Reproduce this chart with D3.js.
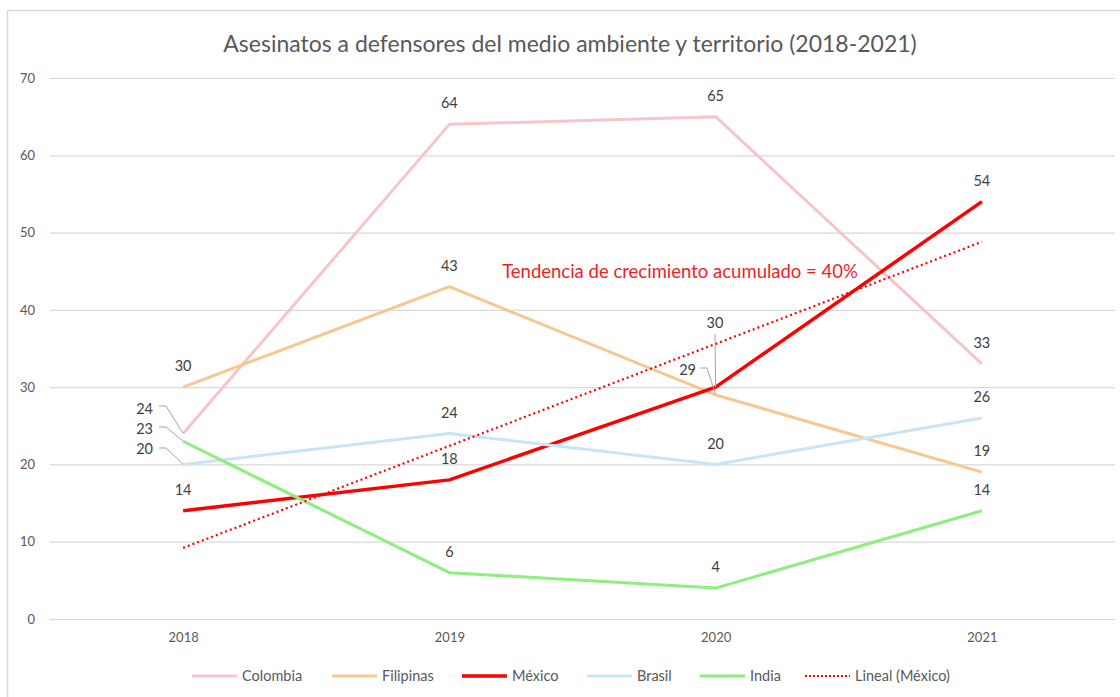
<!DOCTYPE html>
<html>
<head>
<meta charset="utf-8">
<script src="https://cdn.jsdelivr.net/npm/d3@7"></script>
<style>
  body { margin: 0; background: #fff; }
  svg { display: block; }
  text { font-family: Lato, "Open Sans", sans-serif; }
</style>
</head>
<body>
<svg id="chart" width="1120" height="697"></svg>
<script>
const years = ["2018", "2019", "2020", "2021"];
const colombia = [24, 64, 65, 33];
const filipinas = [30, 43, 29, 19];
const mexico = [14, 18, 30, 54];
const brasil = [20, 24, 20, 26];
const india = [23, 6, 4, 14];
const yTicks = [0, 10, 20, 30, 40, 50, 60, 70];
const titleText = "Asesinatos a defensores del medio ambiente y territorio (2018-2021)";
const annotationText = "Tendencia de crecimiento acumulado = 40%";

const series = [
  { name: "Colombia", values: colombia, color: "#F7C5C8", width: 3 },
  { name: "Filipinas", values: filipinas, color: "#F8C790", width: 3 },
  { name: "México", values: mexico, color: "#FF0000", width: 3.5 },
  { name: "Brasil", values: brasil, color: "#C8E5F7", width: 3 },
  { name: "India", values: india, color: "#8EEE7E", width: 3 }
];

// linear trend of México (least squares over index 1..n)
const xs = mexico.map((_, i) => i + 1);
const mx = d3.mean(xs), my = d3.mean(mexico);
const slope = d3.sum(xs.map((x, i) => (x - mx) * (mexico[i] - my))) / d3.sum(xs.map(x => (x - mx) ** 2));
const intercept = my - slope * mx;
const trend = xs.map(x => intercept + slope * x);

const svg = d3.select("#chart");
const x = d3.scalePoint().domain(years).range([50, 1115]).padding(0.5);
const y = d3.scaleLinear().domain([0, 70]).range([619, 78]);

// chart border
svg.append("path").attr("d", "M7.5,697 V10.5 H1120").attr("fill", "none").attr("stroke", "#D9D9D9").attr("stroke-width", 1.5);

// title
svg.append("text").attr("x", 570).attr("y", 52).attr("text-anchor", "middle")
  .attr("font-size", 23).attr("fill", "#595959").text(titleText);

// gridlines + y axis
const yAxis = d3.axisLeft(y).tickValues(yTicks).tickSize(-(1115 - 50)).tickPadding(15);
const gy = svg.append("g").attr("transform", "translate(50,0)").call(yAxis);
gy.select(".domain").remove();
gy.selectAll(".tick line").attr("stroke", "#D9D9D9").attr("stroke-width", 1.2);
gy.selectAll(".tick text").attr("fill", "#595959").attr("font-size", 13).attr("font-family", "'Open Sans', sans-serif");

// x axis labels
const xAxis = d3.axisBottom(x).tickSize(0).tickPadding(14);
const gx = svg.append("g").attr("transform", "translate(0,619)").call(xAxis);
gx.select(".domain").remove();
gx.selectAll(".tick text").attr("fill", "#595959").attr("font-size", 13).attr("font-family", "'Open Sans', sans-serif");

const line = d3.line().x((d, i) => x(years[i])).y(d => y(d));

series.forEach(s => {
  svg.append("path").datum(s.values).attr("d", line)
    .attr("fill", "none").attr("stroke", s.color).attr("stroke-width", s.width)
    .attr("stroke-linejoin", "round");
});

// trend line
svg.append("path").datum(trend).attr("d", line)
  .attr("fill", "none").attr("stroke", "#FF0000").attr("stroke-width", 2.2)
  .attr("stroke-dasharray", "2,3");

// data labels with custom placements for crowded points
const custom = {
  "Colombia-0": { lx: 153, ly: 409, anchor: "end", leader: [[159, 406], [166, 406]] },
  "India-0": { lx: 153, ly: 429, anchor: "end", leader: [[159, 427], [166, 427]] },
  "Brasil-0": { lx: 153, ly: 449, anchor: "end", leader: [[159, 448], [166, 448]] },
  "México-2": { lx: 715, ly: 323, anchor: "middle", leader: [[715, 334]] },
  "Filipinas-2": { lx: 696, ly: 370, anchor: "end", leader: [[700, 368], [707, 368]] }
};
const labelG = svg.append("g").attr("fill", "#404040").attr("font-size", 14.5);
series.forEach(s => {
  s.values.forEach((v, i) => {
    const px = x(years[i]), py = y(v);
    const c = custom[s.name + "-" + i];
    if (c) {
      const pts = c.leader.concat([[px, py]]);
      svg.append("path").attr("d", d3.line()(pts)).attr("fill", "none")
        .attr("stroke", "#A6A6A6").attr("stroke-width", 1);
      labelG.append("text").attr("x", c.lx).attr("y", c.ly).attr("dy", "0.35em")
        .attr("text-anchor", c.anchor).text(v);
    } else {
      labelG.append("text").attr("x", px).attr("y", py - 21).attr("dy", "0.35em")
        .attr("text-anchor", "middle").text(v);
    }
  });
});

// annotation
svg.append("text").attr("x", 680).attr("y", 272).attr("dy", "0.35em").attr("text-anchor", "middle")
  .attr("font-size", 18.5).attr("fill", "#F01E28").text(annotationText);

// legend
const legendItems = series.map(s => ({ name: s.name, color: s.color, width: s.width, dash: null }))
  .concat([{ name: "Lineal (México)", color: "#FF0000", width: 2.2, dash: "2,2" }]);
const legendX = [192, 332, 462, 587, 700, 805];
const lg = svg.append("g");
legendItems.forEach((d, i) => {
  const gx0 = legendX[i];
  lg.append("line").attr("x1", gx0).attr("x2", gx0 + 45).attr("y1", 676).attr("y2", 676)
    .attr("stroke", d.color).attr("stroke-width", d.width).attr("stroke-dasharray", d.dash);
  lg.append("text").attr("x", gx0 + 50).attr("y", 676).attr("dy", "0.35em")
    .attr("font-size", 14.5).attr("fill", "#595959").text(d.name);
});
</script>
</body>
</html>
